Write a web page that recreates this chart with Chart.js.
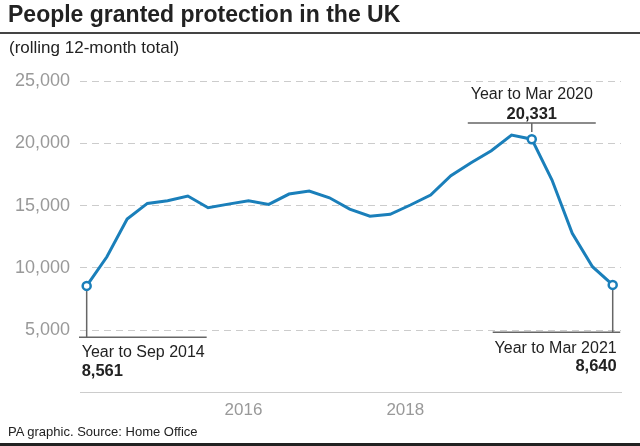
<!DOCTYPE html>
<html>
<head>
<meta charset="utf-8">
<script src="https://cdn.jsdelivr.net/npm/chart.js@4"></script>
<style>
  html, body { margin:0; padding:0; background:#fff; }
  #wrap { position:relative; width:640px; height:446px; overflow:hidden; font-family:"Liberation Sans", Arial, sans-serif; }
  #c { position:absolute; left:0; top:0; }
  .t { position:absolute; white-space:nowrap; color:#222; }
  #title { left:8px; top:3px; font-size:23px; line-height:23px; font-weight:bold; }
  #rule { position:absolute; left:0; top:32px; width:640px; height:2px; background:#444; }
  #sub { left:9px; top:39px; font-size:17px; line-height:17px; }
  #src { left:8px; top:425px; font-size:13px; line-height:13px; }
  #bar { position:absolute; left:0; top:443px; width:640px; height:3px; background:#222; }
</style>
</head>
<body>
<div id="wrap">
  <canvas id="c" width="640" height="446"></canvas>
  <div class="t" id="title">People granted protection in the UK</div>
  <div id="rule"></div>
  <div class="t" id="sub">(rolling 12-month total)</div>
  <div class="t" id="src">PA graphic. Source: Home Office</div>
  <div id="bar"></div>
</div>
<script>
// Quarterly periods (rolling 12-month totals)
const categories = [
  "Year to Sep 2014","Year to Dec 2014","Year to Mar 2015","Year to Jun 2015",
  "Year to Sep 2015","Year to Dec 2015","Year to Mar 2016","Year to Jun 2016",
  "Year to Sep 2016","Year to Dec 2016","Year to Mar 2017","Year to Jun 2017",
  "Year to Sep 2017","Year to Dec 2017","Year to Mar 2018","Year to Jun 2018",
  "Year to Sep 2018","Year to Dec 2018","Year to Mar 2019","Year to Jun 2019",
  "Year to Sep 2019","Year to Dec 2019","Year to Mar 2020","Year to Jun 2020",
  "Year to Sep 2020","Year to Dec 2020","Year to Mar 2021"
];
const granted = [
  8561, 10900, 13920, 15180, 15390, 15770, 14830, 15120, 15390, 15100,
  15930, 16170, 15630, 14720, 14150, 14300, 15050, 15850, 17400, 18440,
  19400, 20660, 20331, 17050, 12780, 10100, 8640
];
const yTicks = [0, 5000, 10000, 15000, 20000, 25000];
const yearLabels = ["2016", "2018"];
const yearTickIndex = [7.75, 15.75];
const highlighted = [0, 22, 26];

const BLUE = "#1a7fba";
const fmt = v => v.toLocaleString("en-GB");

const annot = {
  id: "annot",
  beforeDatasetsDraw(chart) {
    const ctx = chart.ctx, y = chart.scales.y, ca = chart.chartArea;
    const pts = chart.getDatasetMeta(0).data;
    const p0 = pts[0], p22 = pts[22], p26 = pts[26];
    ctx.save();
    ctx.strokeStyle = "#666";
    ctx.lineWidth = 1.5;
    // left
    const yl = y.getPixelForValue(5000) + 7;
    ctx.beginPath();
    ctx.moveTo(p0.x, p0.y); ctx.lineTo(p0.x, yl);
    ctx.moveTo(ca.left - 1, yl); ctx.lineTo(p0.x + 120, yl);
    // right
    const yr = y.getPixelForValue(5000) + 2;
    ctx.moveTo(p26.x, p26.y); ctx.lineTo(p26.x, yr);
    ctx.moveTo(p26.x - 120, yr); ctx.lineTo(p26.x + 7.5, yr);
    // top
    const yt = y.getPixelForValue(25000) + 42;
    ctx.moveTo(p22.x - 64, yt); ctx.lineTo(p22.x + 64, yt);
    ctx.moveTo(p22.x, yt); ctx.lineTo(p22.x, yt + 9);
    ctx.stroke();
    ctx.restore();
  },
  afterDatasetsDraw(chart) {
    const ctx = chart.ctx, y = chart.scales.y;
    const pts = chart.getDatasetMeta(0).data;
    const p0 = pts[0], p22 = pts[22], p26 = pts[26];
    const reg = '16px "Liberation Sans", Arial, sans-serif';
    const bold = 'bold 16.5px "Liberation Sans", Arial, sans-serif';
    ctx.save();
    ctx.fillStyle = "#222";
    ctx.textBaseline = "alphabetic";
    // left
    ctx.textAlign = "left";
    ctx.font = reg;  ctx.fillText(categories[0], p0.x - 5, 357);
    ctx.font = bold; ctx.fillText(fmt(granted[0]), p0.x - 5, 375.5);
    // right
    ctx.textAlign = "right";
    ctx.font = reg;  ctx.fillText(categories[26], p26.x + 4, 353);
    ctx.font = bold; ctx.fillText(fmt(granted[26]), p26.x + 4, 371);
    // top
    ctx.textAlign = "center";
    ctx.font = reg;  ctx.fillText(categories[22], p22.x, 98.5);
    ctx.font = bold; ctx.fillText(fmt(granted[22]), p22.x, 118.5);
    ctx.restore();
  }
};

new Chart(document.getElementById("c"), {
  type: "line",
  data: {
    labels: categories,
    datasets: [{
      data: granted.map((v, i) => ({ x: i, y: v })),
      borderColor: BLUE,
      borderWidth: 3,
      tension: 0,
      pointRadius: granted.map((_, i) => highlighted.includes(i) ? 4 : 0),
      pointBackgroundColor: "#fff",
      pointBorderColor: BLUE,
      pointBorderWidth: 2.5,
      clip: false
    }]
  },
  options: {
    responsive: false,
    animation: false,
    devicePixelRatio: 1,
    layout: { padding: { left: 0, right: 19, top: 81, bottom: 0 } },
    plugins: { legend: { display: false }, tooltip: { enabled: false } },
    scales: {
      x: {
        type: "linear",
        min: -0.33, max: 26.41,
        afterFit: s => { s.height = 53.4; },
        afterBuildTicks: s => { s.ticks = yearTickIndex.map(v => ({ value: v })); },
        grid: { display: false, drawTicks: false },
        border: { display: true, color: "#ccc", width: 1 },
        ticks: {
          padding: 8,
          color: "#999",
          font: { family: '"Liberation Sans", Arial, sans-serif', size: 17 },
          callback: (v, i) => yearLabels[i]
        }
      },
      y: {
        min: 0, max: 25000,
        afterFit: s => { s.width = 80; },
        afterBuildTicks: s => { s.ticks = yTicks.map(v => ({ value: v })); },
        grid: {
          drawTicks: false,
          color: c => (c.tick && c.tick.value === 0) ? "rgba(0,0,0,0)" : "#ccc",
          lineWidth: 1
        },
        border: { display: false, dash: [7, 5] },
        ticks: {
          padding: 10,
          color: "#999",
          font: { family: '"Liberation Sans", Arial, sans-serif', size: 18 },
          callback: v => v === 0 ? "" : fmt(v)
        }
      }
    }
  },
  plugins: [annot]
});
</script>
</body>
</html>
